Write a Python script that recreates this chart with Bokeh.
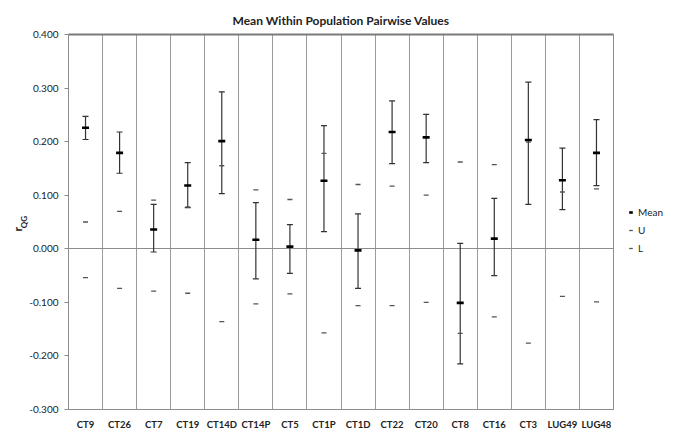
from bokeh.plotting import figure
from bokeh.layouts import row
from bokeh.models import (Whisker, TeeHead, ColumnDataSource, FixedTicker,
                          NumeralTickFormatter, Legend, LegendItem,
                          LinearAxis, Range1d)
from bokeh.embed import file_html
from bokeh.resources import INLINE

cats = ["CT9", "CT26", "CT7", "CT19", "CT14D", "CT14P", "CT5", "CT1P",
        "CT1D", "CT22", "CT20", "CT8", "CT16", "CT3", "LUG49", "LUG48"]
mean = [0.226, 0.179, 0.036, 0.118, 0.201, 0.017, 0.004, 0.127,
        -0.003, 0.218, 0.208, -0.101, 0.019, 0.203, 0.128, 0.179]
err_hi = [0.247, 0.218, 0.083, 0.161, 0.293, 0.086, 0.045, 0.230,
          0.065, 0.276, 0.251, 0.010, 0.094, 0.311, 0.188, 0.241]
err_lo = [0.204, 0.141, -0.006, 0.077, 0.103, -0.056, -0.046, 0.032,
          -0.074, 0.159, 0.161, -0.215, -0.050, 0.083, 0.073, 0.118]
U = [0.050, 0.070, 0.091, 0.078, 0.155, 0.110, 0.092, 0.178,
     0.120, 0.117, 0.100, 0.162, 0.157, 0.199, 0.106, 0.112]
L = [-0.054, -0.074, -0.079, -0.083, -0.136, -0.103, -0.084, -0.157,
     -0.106, -0.106, -0.100, -0.158, -0.127, -0.176, -0.089, -0.099]
y_ticks = [-0.3, -0.2, -0.1, 0.0, 0.1, 0.2, 0.3, 0.4]
legend_labels = ["Mean", "U", "L"]

xpos = [i + 0.5 for i in range(len(cats))]
src = ColumnDataSource(dict(x=xpos, mean=mean, hi=err_hi, lo=err_lo, U=U, L=L))

FONT = "Lato"
GRAY = "#8c8c8c"
TXT = "#222222"

p = figure(width=614, height=432, output_backend="svg", toolbar_location=None,
           x_range=Range1d(0, len(cats)), y_range=Range1d(-0.3, 0.4),
           min_border_left=68, min_border_right=1, min_border_top=34,
           min_border_bottom=22)

p.title.text = "Mean Within Population Pairwise Values"
p.title.align = "center"
p.title.text_font = FONT
p.title.text_font_size = "12px"
p.title.text_font_style = "bold"
p.title.text_color = TXT
p.title.vertical_align = "top"
p.title.offset = 0

p.outline_line_color = GRAY
p.outline_line_width = 1
p.background_fill_color = "white"
p.border_fill_color = "white"

# x axis
p.xaxis.ticker = FixedTicker(ticks=xpos)
p.xaxis.major_label_overrides = {x: c for x, c in zip(xpos, cats)}
p.xaxis.major_tick_line_color = None
p.xaxis.minor_tick_line_color = None
p.xaxis.axis_line_color = GRAY
p.xaxis.major_label_text_font = FONT
p.xaxis.major_label_text_font_style = "bold"
p.xaxis.major_label_text_font_size = "9.5px"
p.xaxis.major_label_text_color = TXT
p.xaxis.major_label_standoff = 3

# top border (thicker, darker)
top_ax = LinearAxis(ticker=FixedTicker(ticks=[]), axis_line_color="#7a7a7a",
                    axis_line_width=2, major_tick_line_color=None,
                    minor_tick_line_color=None, major_label_text_font_size="0px")
p.add_layout(top_ax, "above")

# y axis
p.yaxis.ticker = FixedTicker(ticks=y_ticks)
p.yaxis.formatter = NumeralTickFormatter(format="0.000")
p.yaxis.major_tick_in = 0
p.yaxis.major_tick_out = 4
p.yaxis.major_tick_line_color = GRAY
p.yaxis.minor_tick_line_color = None
p.yaxis.axis_line_color = GRAY
p.yaxis.major_label_text_font = FONT
p.yaxis.major_label_text_font_size = "10px"
p.yaxis.major_label_text_color = TXT
p.yaxis.major_label_standoff = 6
p.yaxis.axis_label = "QG"
p.yaxis.axis_label_text_font = FONT
p.yaxis.axis_label_text_font_size = "8px"
p.yaxis.axis_label_text_font_style = "bold"
p.yaxis.axis_label_text_color = TXT
p.yaxis.axis_label_standoff = -3

# outer axis carrying the "r" of r_QG
r_ax = LinearAxis(ticker=FixedTicker(ticks=[]), axis_line_color=None,
                  major_tick_line_color=None, minor_tick_line_color=None,
                  major_label_text_font_size="0px",
                  axis_label="r\u00a0\u00a0\u00a0\u00a0\u00a0",
                  axis_label_text_font=FONT, axis_label_text_font_size="12px",
                  axis_label_text_font_style="bold",
                  axis_label_text_color=TXT, axis_label_standoff=-8)
p.add_layout(r_ax, "left")

# grids: vertical lines between categories, horizontal line at zero
p.xgrid.ticker = FixedTicker(ticks=list(range(1, len(cats))))
p.xgrid.grid_line_color = "#9a9a9a"
p.xgrid.grid_line_width = 1
p.ygrid.ticker = FixedTicker(ticks=[0.0])
p.ygrid.grid_line_color = GRAY
p.ygrid.grid_line_width = 1

# error bars
wh = Whisker(source=src, base="x", upper="hi", lower="lo", dimension="height",
             line_color="#333333", line_width=1.2,
             upper_head=TeeHead(size=6, line_color="#333333", line_width=1.2),
             lower_head=TeeHead(size=6, line_color="#333333", line_width=1.2))
p.add_layout(wh)

U_STYLE = dict(marker="dash", size=5, line_color="#555555", line_width=1.3)
M_STYLE = dict(marker="dash", size=7, line_color="#000000", line_width=2.6)

p.scatter("x", "U", source=src, **U_STYLE)
p.scatter("x", "L", source=src, **U_STYLE)
p.scatter("x", "mean", source=src, **M_STYLE)

# legend panel (separate narrow figure to the right of the plot); its
# renderers use the same data but its ranges keep them out of view
lg = figure(width=61, height=432, output_backend="svg", toolbar_location=None,
            x_range=Range1d(-3, -2), y_range=Range1d(-3, -2),
            x_axis_type=None, y_axis_type=None, min_border=0)
lg.outline_line_color = None
lg.grid.visible = False
lg.background_fill_color = "white"
lg.border_fill_color = "white"
lm = lg.scatter("x", "mean", source=src, **M_STYLE)
lu = lg.scatter("x", "U", source=src, **U_STYLE)
ll = lg.scatter("x", "L", source=src, **U_STYLE)

legend = Legend(items=[LegendItem(label=legend_labels[0], renderers=[lm]),
                       LegendItem(label=legend_labels[1], renderers=[lu]),
                       LegendItem(label=legend_labels[2], renderers=[ll])],
                location=(12, 155), border_line_color=None,
                background_fill_alpha=0, label_text_font=FONT,
                label_text_font_size="10px", label_text_color=TXT,
                glyph_width=9, glyph_height=12, label_height=12,
                label_standoff=3, spacing=6, padding=0, margin=0)
lg.add_layout(legend)

layout = row(p, lg)
open("out.html", "w").write(file_html(layout, INLINE))
